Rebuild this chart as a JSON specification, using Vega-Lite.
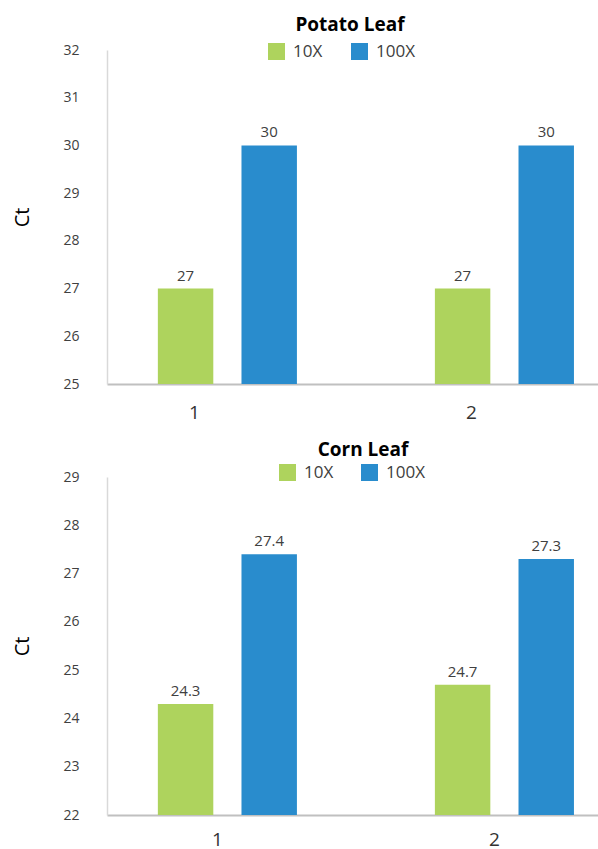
{
  "$schema": "https://vega.github.io/schema/vega-lite/v6.json",
  "autosize": {"type": "pad"},
  "padding": {"left": 12, "top": 16, "right": 0, "bottom": 0},
  "background": "white",
  "config": {
    "font": "Open Sans",
    "view": {"stroke": null},
    "concat": {"spacing": 19}
  },
  "datasets": {
    "potato": [
      {"sample": "1", "series": "10X", "value": 27},
      {"sample": "1", "series": "100X", "value": 30},
      {"sample": "2", "series": "10X", "value": 27},
      {"sample": "2", "series": "100X", "value": 30}
    ],
    "corn": [
      {"sample": "1", "series": "10X", "value": 24.3},
      {"sample": "1", "series": "100X", "value": 27.4},
      {"sample": "2", "series": "10X", "value": 24.7},
      {"sample": "2", "series": "100X", "value": 27.3}
    ]
  },
  "resolve": {"legend": {"color": "independent"}, "scale": {"y": "independent"}},
  "vconcat": [
    {
      "width": 492,
      "height": 334,
      "title": {"text": "Potato Leaf", "fontSize": 19, "fontWeight": "bold", "color": "#000000", "anchor": "middle", "offset": 8, "dx": -3},
      "data": {"name": "potato"},
      "encoding": {
        "x": {"field": "sample", "type": "nominal", "scale": {"paddingInner": 0.498, "paddingOuter": 0.137, "align": 0.67},
          "axis": {"title": null, "labelAngle": 0, "ticks": false, "labelFontSize": 19, "labelColor": "#333333", "labelPadding": 19, "labelOffset": -33, "domainColor": "#c0c0c0", "domainWidth": 2}},
        "xOffset": {"field": "series", "type": "nominal", "sort": ["10X", "100X"], "scale": {"paddingInner": 0.337, "paddingOuter": 0}},
        "color": {"field": "series", "type": "nominal", "sort": ["10X", "100X"],
          "scale": {"domain": ["10X", "100X"], "range": ["#aed35d", "#298ccd"]},
          "legend": {"title": null, "orient": "none", "legendX": 161, "legendY": -7, "direction": "horizontal", "symbolType": "square", "symbolSize": 289, "symbolStrokeWidth": 0, "symbolOpacity": 1, "labelFontSize": 17, "labelColor": "#404040", "labelOffset": 8, "columnPadding": 28}}
      },
      "layer": [
        {
          "mark": {"type": "bar"},
          "encoding": {
            "y": {"field": "value", "type": "quantitative", "scale": {"domain": [25, 32], "zero": false, "nice": false},
              "axis": {"title": "Ct", "titleFontSize": 20, "titleFontWeight": "normal", "titleColor": "#000000", "titlePadding": 30, "values": [25, 26, 27, 28, 29, 30, 31, 32], "ticks": false, "grid": false, "labelFontSize": 14, "labelColor": "#404040", "labelPadding": 28, "domainColor": "#d9d9d9", "domainWidth": 1.5}},
            "y2": {"datum": 25}
          }
        },
        {
          "mark": {"type": "text", "baseline": "bottom", "dy": -5, "fontSize": 15},
          "encoding": {
            "y": {"field": "value", "type": "quantitative"},
            "text": {"field": "value", "type": "quantitative"},
            "color": {"value": "#404040"}
          }
        }
      ]
    },
    {
      "width": 492,
      "height": 338,
      "title": {"text": "Corn Leaf", "fontSize": 19, "fontWeight": "bold", "color": "#000000", "anchor": "middle", "offset": 4, "dx": 10},
      "data": {"name": "corn"},
      "encoding": {
        "x": {"field": "sample", "type": "nominal", "scale": {"paddingInner": 0.498, "paddingOuter": 0.137, "align": 0.67},
          "axis": {"title": null, "labelAngle": 0, "ticks": false, "labelFontSize": 19, "labelColor": "#333333", "labelPadding": 15, "labelOffset": -10, "domainColor": "#c0c0c0", "domainWidth": 2}},
        "xOffset": {"field": "series", "type": "nominal", "sort": ["10X", "100X"], "scale": {"paddingInner": 0.337, "paddingOuter": 0}},
        "color": {"field": "series", "type": "nominal", "sort": ["10X", "100X"],
          "scale": {"domain": ["10X", "100X"], "range": ["#aed35d", "#298ccd"]},
          "legend": {"title": null, "orient": "none", "legendX": 172, "legendY": -13, "direction": "horizontal", "symbolType": "square", "symbolSize": 289, "symbolStrokeWidth": 0, "symbolOpacity": 1, "labelFontSize": 17, "labelColor": "#404040", "labelOffset": 8, "columnPadding": 27}}
      },
      "layer": [
        {
          "mark": {"type": "bar"},
          "encoding": {
            "y": {"field": "value", "type": "quantitative", "scale": {"domain": [22, 29], "zero": false, "nice": false},
              "axis": {"title": "Ct", "titleFontSize": 20, "titleFontWeight": "normal", "titleColor": "#000000", "titlePadding": 30, "values": [22, 23, 24, 25, 26, 27, 28, 29], "ticks": false, "grid": false, "labelFontSize": 14, "labelColor": "#404040", "labelPadding": 28, "domainColor": "#d9d9d9", "domainWidth": 1.5}},
            "y2": {"datum": 22}
          }
        },
        {
          "mark": {"type": "text", "baseline": "bottom", "dy": -5, "fontSize": 15},
          "encoding": {
            "y": {"field": "value", "type": "quantitative"},
            "text": {"field": "value", "type": "quantitative"},
            "color": {"value": "#404040"}
          }
        }
      ]
    }
  ]
}
